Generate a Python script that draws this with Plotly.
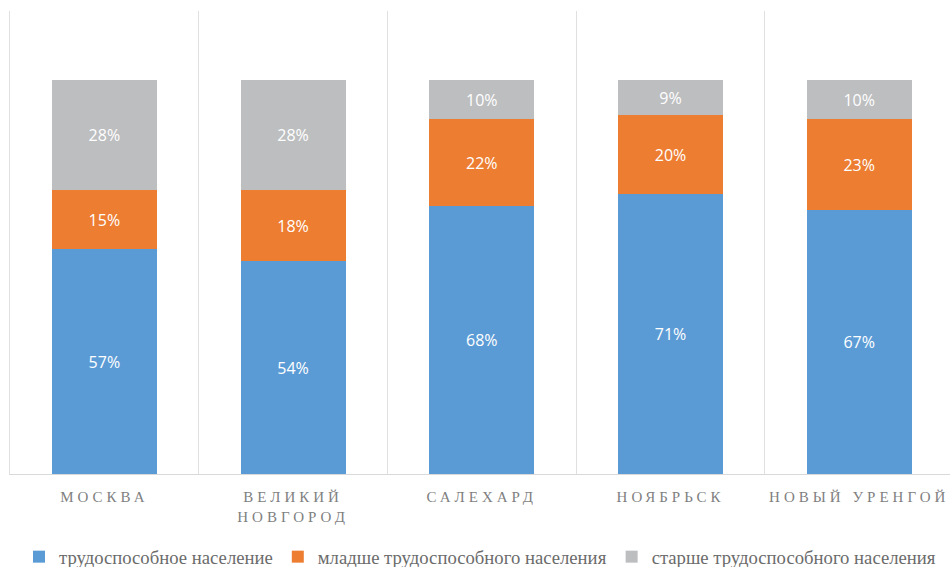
import plotly.graph_objects as go

cities = ["МОСКВА", "ВЕЛИКИЙ<br>НОВГОРОД", "САЛЕХАРД", "НОЯБРЬСК", "НОВЫЙ УРЕНГОЙ"]
working = [57, 54, 68, 71, 67]
younger = [15, 18, 22, 20, 23]
older = [28, 28, 10, 9, 10]

series = [
    ("трудоспособное население", working, "#5B9BD5"),
    ("младше трудоспособного населения", younger, "#ED7D31"),
    ("старше трудоспособного населения", older, "#BDBEC0"),
]

W, H = 950, 580
PLOT_BOTTOM = 474  # px from top, as in the reference
PLOT_TOP = 11

fig = go.Figure()
for name, vals, color in series:
    fig.add_trace(go.Bar(
        x=cities, y=vals, name=name,
        marker=dict(color=color, line=dict(width=0)),
        text=[f"{v}%" for v in vals],
        textposition="inside", insidetextanchor="middle",
        textangle=0, constraintext="none",
        textfont=dict(family="Open Sans", size=16, color="white"),
        hoverinfo="skip",
    ))

plot_h = PLOT_BOTTOM - PLOT_TOP
fig.update_layout(
    barmode="stack",
    bargap=0.443,
    width=W, height=H,
    margin=dict(l=10, r=0, t=PLOT_TOP, b=H - PLOT_BOTTOM),
    paper_bgcolor="white", plot_bgcolor="white",
    showlegend=True,
    legend=dict(
        orientation="h", xanchor="center", x=0.5, yanchor="middle",
        y=-(557 - PLOT_BOTTOM) / plot_h,
        font=dict(family="Liberation Serif, Times New Roman, serif", size=18.7, color="#6b6b6b"),
        traceorder="normal", itemsizing="constant", borderwidth=0,
    ),
    xaxis=dict(
        type="category", range=[-0.5, 4.481], tickson="boundaries",
        showgrid=True, gridcolor="#e0e0e0", gridwidth=1,
        showline=True, linecolor="#d9d9d9", linewidth=1,
        ticks="", zeroline=False, ticklabelstandoff=9,
        tickfont=dict(family="Liberation Serif, Times New Roman, serif", size=15, color="#7f7f7f"),
        fixedrange=True,
    ),
    yaxis=dict(
        range=[0, 117.5], showgrid=False, showticklabels=False,
        zeroline=False, showline=True, linecolor="#e0e0e0", linewidth=1,
        ticks="", fixedrange=True,
    ),
)

js = """
document.body.style.margin = '0';
document.body.style.overflow = 'hidden';
var gd = document.getElementById('{plot_id}');
function ls(){
  gd.querySelectorAll('.xtick text').forEach(function(t){ t.style.letterSpacing = '4px'; });
}
ls();
gd.on('plotly_afterplot', ls);
"""
fig.write_html("out.html", post_script=js, config={"displayModeBar": False})
